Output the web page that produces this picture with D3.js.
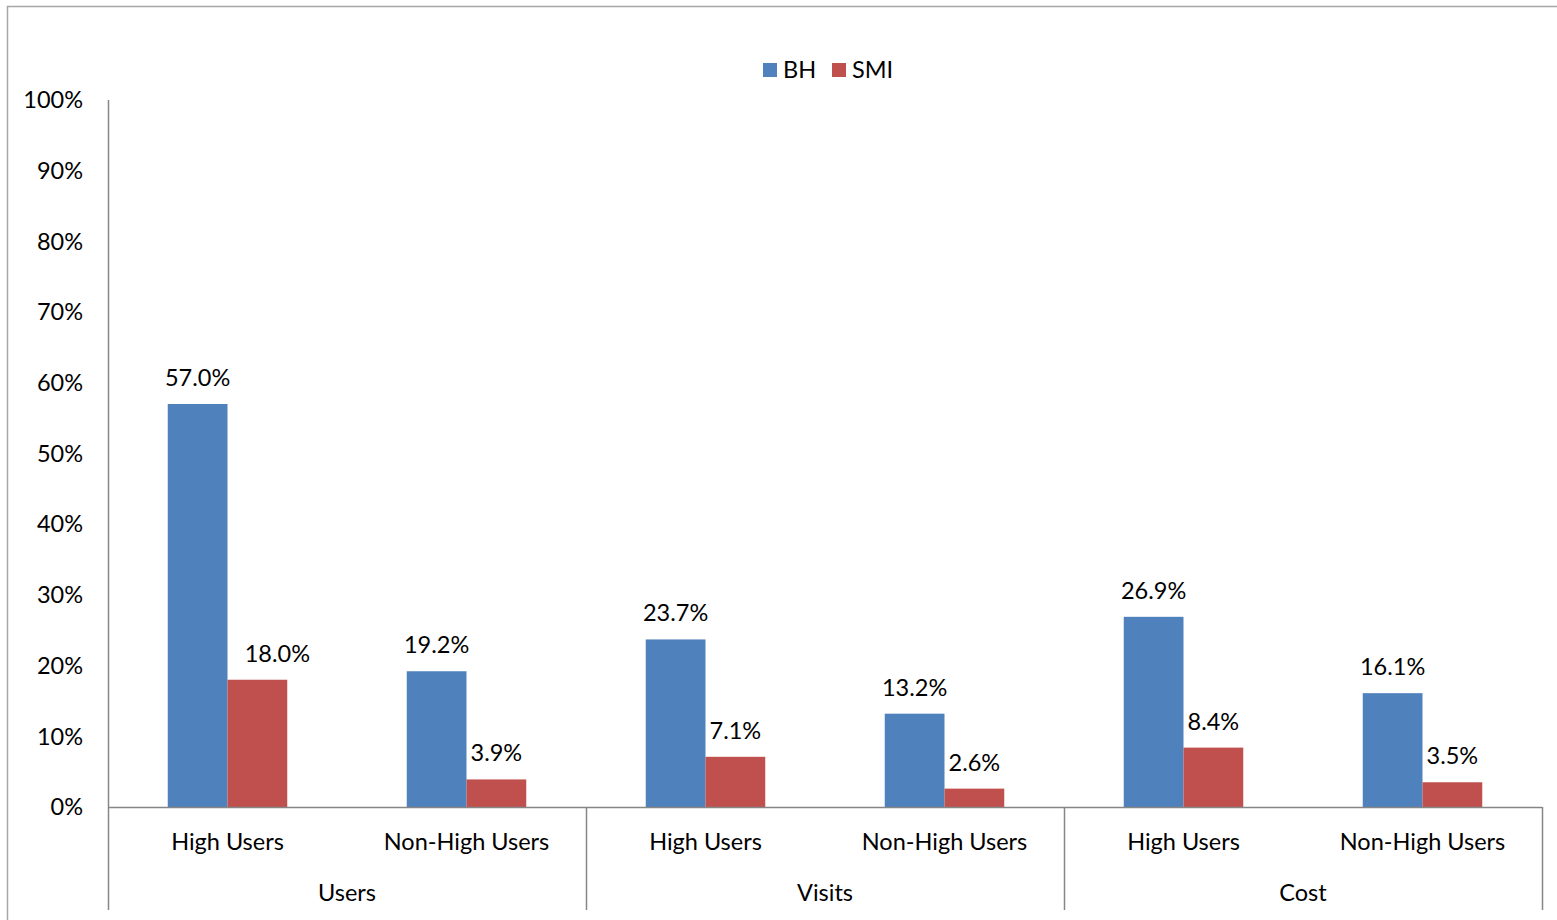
<!DOCTYPE html>
<html>
<head>
<meta charset="utf-8">
<script src="https://cdn.jsdelivr.net/npm/d3@7"></script>
<style>
  body { margin: 0; background: #fff; }
  svg text { font-family: Lato, "Open Sans", sans-serif; fill: #000; }
</style>
</head>
<body>
<script>
  const groups = ["Users", "Visits", "Cost"];
  const subCats = ["High Users", "Non-High Users"];
  const seriesNames = ["BH", "SMI"];
  const seriesColors = ["#4F81BD", "#C0504D"];
  // values per group, per subcategory: [BH, SMI]
  const bhValues  = [57.0, 19.2, 23.7, 13.2, 26.9, 16.1];
  const smiValues = [18.0, 3.9, 7.1, 2.6, 8.4, 3.5];
  const yTicks = [0, 10, 20, 30, 40, 50, 60, 70, 80, 90, 100];

  const W = 1557, H = 920;
  const plot = { l: 108, r: 1542, t: 100, b: 807 };
  const fontSize = 23.5;
  // the one data label that was dragged sideways in the original
  const labelNudge = { "Users|High Users|SMI": 20 };

  const svg = d3.select("body").append("svg")
    .attr("width", W).attr("height", H);

  // outer chart frame
  svg.append("rect")
    .attr("x", 7.5).attr("y", 6.5)
    .attr("width", W + 20).attr("height", H + 20)
    .attr("fill", "none").attr("stroke", "#a6a6a6").attr("stroke-width", 1.5);

  const cats = [];
  groups.forEach((g, gi) => subCats.forEach((s, si) => cats.push({
    key: g + "|" + s, group: g, sub: s, bh: bhValues[gi * 2 + si], smi: smiValues[gi * 2 + si]
  })));

  const x = d3.scaleBand().domain(cats.map(d => d.key)).range([plot.l, plot.r]).paddingInner(0.5).paddingOuter(0.25);
  const xCat = d3.scaleBand().domain(cats.map(d => d.key)).range([plot.l, plot.r]);
  const xSeries = d3.scaleBand().domain(seriesNames).range([0, x.bandwidth()]);
  const y = d3.scaleLinear().domain([0, 100]).range([plot.b, plot.t]);

  // y axis
  svg.append("line")
    .attr("x1", plot.l + 0.5).attr("x2", plot.l + 0.5)
    .attr("y1", plot.t).attr("y2", plot.b)
    .attr("stroke", "#868686").attr("stroke-width", 1.5);

  svg.selectAll(".ytick").data(yTicks).join("text")
    .attr("class", "ytick")
    .attr("x", 83).attr("y", d => y(d))
    .attr("dy", "0.35em")
    .attr("text-anchor", "end")
    .style("font-size", fontSize + "px")
    .text(d => d + "%");

  // bars
  const gBars = svg.append("g");
  cats.forEach(c => {
    [c.bh, c.smi].forEach((v, i) => {
      const bx = x(c.key) + xSeries(seriesNames[i]);
      const nudge = labelNudge[c.key + "|" + seriesNames[i]] || 0;
      gBars.append("rect")
        .attr("x", bx).attr("y", y(v))
        .attr("width", xSeries.bandwidth()).attr("height", plot.b - y(v))
        .attr("fill", seriesColors[i]);
      gBars.append("text")
        .attr("x", bx + xSeries.bandwidth() / 2 + nudge)
        .attr("y", y(v) - 18)
        .attr("text-anchor", "middle")
        .style("font-size", fontSize + "px")
        .text(v.toFixed(1) + "%");
    });
  });

  // x axis line
  svg.append("line")
    .attr("x1", plot.l).attr("x2", plot.r)
    .attr("y1", plot.b + 0.5).attr("y2", plot.b + 0.5)
    .attr("stroke", "#868686").attr("stroke-width", 1.5);

  // group separators
  const groupEdges = [0, 2, 4].map(i => xCat(cats[i].key)).concat([plot.r]);
  svg.selectAll(".gsep").data(groupEdges).join("line")
    .attr("class", "gsep")
    .attr("x1", d => d + 0.5).attr("x2", d => d + 0.5)
    .attr("y1", plot.b).attr("y2", 910)
    .attr("stroke", "#868686").attr("stroke-width", 1.5);

  // category labels
  svg.selectAll(".xcat").data(cats).join("text")
    .attr("class", "xcat")
    .attr("x", d => xCat(d.key) + xCat.bandwidth() / 2)
    .attr("y", 850)
    .attr("text-anchor", "middle")
    .style("font-size", fontSize + "px")
    .text(d => d.sub);

  svg.selectAll(".xgroup").data(groups).join("text")
    .attr("class", "xgroup")
    .attr("x", (d, i) => (groupEdges[i] + groupEdges[i + 1]) / 2)
    .attr("y", 901)
    .attr("text-anchor", "middle")
    .style("font-size", fontSize + "px")
    .text(d => d);

  // legend
  const legend = svg.append("g");
  const legendX = [763, 832];
  seriesNames.forEach((s, i) => {
    legend.append("rect")
      .attr("x", legendX[i]).attr("y", 63)
      .attr("width", 14).attr("height", 14)
      .attr("fill", seriesColors[i]);
    legend.append("text")
      .attr("x", legendX[i] + 20).attr("y", 78)
      .style("font-size", fontSize + "px")
      .text(s);
  });
</script>
</body>
</html>
